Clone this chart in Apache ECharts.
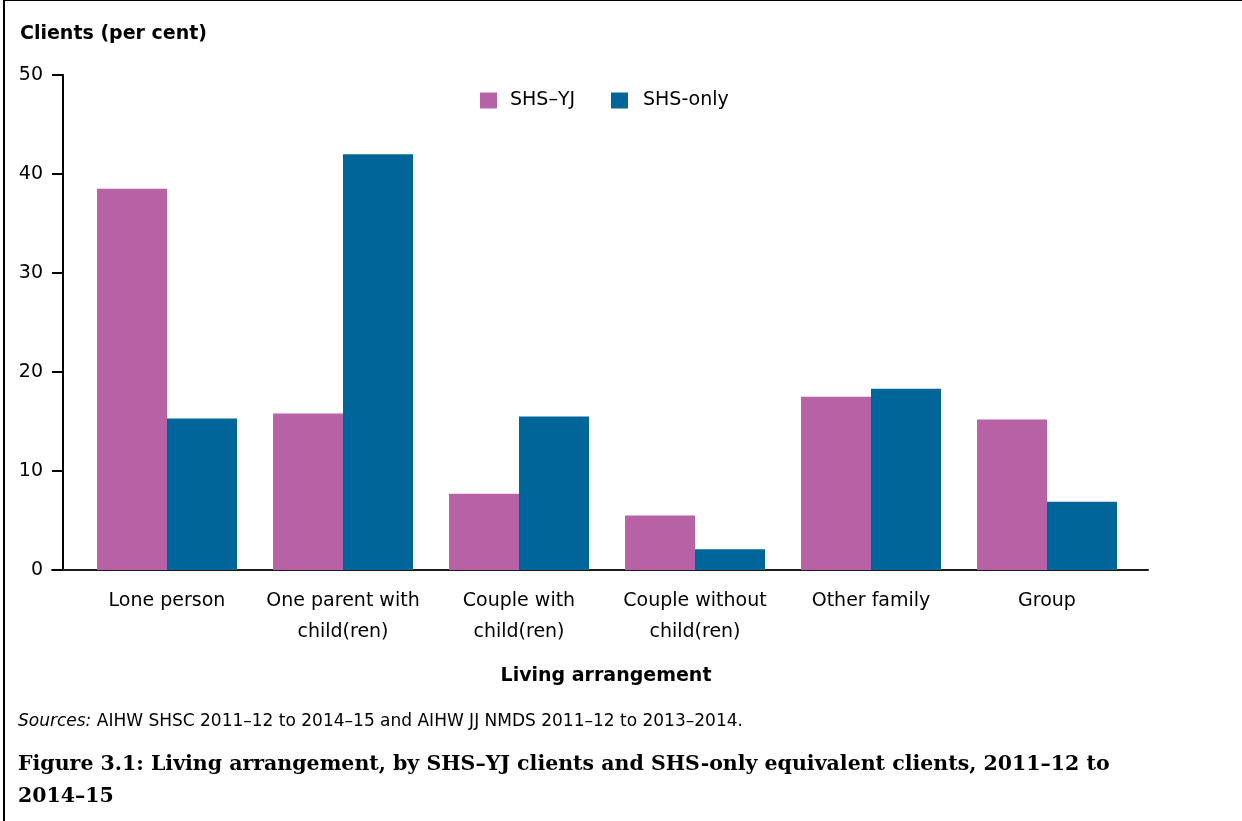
<!DOCTYPE html>
<html>
<head>
<meta charset="utf-8">
<script src="https://cdn.jsdelivr.net/npm/echarts@6/dist/echarts.min.js"></script>
<style>
html,body{margin:0;padding:0;background:#fff;}
#c{width:1242px;height:821px;position:absolute;left:0;top:0;}
#frame{position:absolute;left:3px;top:0;width:1239px;height:821px;border-top:1px solid #000;border-left:2px solid #000;box-sizing:border-box;pointer-events:none;}
</style>
</head>
<body>
<div id="c"></div>
<div id="frame"></div>
<script>
const categories = ['Lone person', 'One parent with\nchild(ren)', 'Couple with\nchild(ren)', 'Couple without\nchild(ren)', 'Other family', 'Group'];
const shsYJ = [38.5, 15.8, 7.7, 5.5, 17.5, 15.2];
const shsOnly = [15.3, 42.0, 15.5, 2.1, 18.3, 6.9];
const seriesNames = ['SHS\u2013YJ', 'SHS-only'];
const yTicks = [0, 10, 20, 30, 40, 50];

const FONT = '"DejaVu Sans", "Liberation Sans", Arial, sans-serif';
const chart = echarts.init(document.getElementById('c'), null, {renderer: 'canvas'});
chart.setOption({
  animation: false,
  textStyle: {fontFamily: FONT, color: '#000'},
  title: [
    {text: 'Clients (per cent)', left: 20, top: 25, padding: 0, textStyle: {fontFamily: FONT, fontSize: 19, fontWeight: 'bold', color: '#000'}},
    {text: 'Living arrangement', left: 606, top: 667, padding: 0, textAlign: 'center', textStyle: {fontFamily: FONT, fontSize: 19, fontWeight: 'bold', color: '#000'}},
    {text: '{i|Sources:} AIHW SHSC 2011\u201312 to 2014\u201315 and AIHW JJ NMDS 2011\u201312 to 2013\u20132014.', left: 18, top: 713, padding: 0,
     textStyle: {fontFamily: FONT, fontSize: 17, fontWeight: 'normal', color: '#000', rich: {i: {fontFamily: FONT, fontSize: 17, fontWeight: 'normal', fontStyle: 'italic', color: '#000'}}}},
    {text: 'Figure 3.1: Living arrangement, by SHS\u2013YJ clients and SHS-only equivalent clients, 2011\u201312 to\n2014\u201315', left: 18, top: 749, padding: 0,
     textStyle: {fontFamily: '"DejaVu Serif", "Liberation Serif", serif', fontSize: 20.5, fontWeight: 'bold', color: '#000', lineHeight: 32}}
  ],
  legend: [
    {left: 480, top: 91, padding: 0, itemWidth: 17, itemHeight: 16, icon: 'rect',
     textStyle: {fontFamily: FONT, fontSize: 19, color: '#000', padding: [2, 0, 0, 8]},
     data: [seriesNames[0]]},
    {left: 611, top: 91, padding: 0, itemWidth: 17, itemHeight: 16, icon: 'rect',
     textStyle: {fontFamily: FONT, fontSize: 19, color: '#000', padding: [2, 0, 0, 10]},
     data: [seriesNames[1]]}
  ],
  grid: [
    {left: 79, right: 107, top: 75, bottom: 251, containLabel: false},
    {left: 52, right: 94, top: 75, bottom: 251, containLabel: false}
  ],
  xAxis: [
    {type: 'category', gridIndex: 0, data: categories,
     axisLine: {show: false}, axisTick: {show: false},
     axisLabel: {fontFamily: FONT, fontSize: 19, color: '#000', margin: 16, lineHeight: 31, interval: 0}},
    {type: 'value', gridIndex: 1, min: 0, max: 1,
     axisLine: {show: true, lineStyle: {color: '#1a1a1a', width: 2}},
     axisTick: {show: false}, axisLabel: {show: false}, splitLine: {show: false}}
  ],
  yAxis: [
    {type: 'value', gridIndex: 0, min: 0, max: 50, interval: 10, offset: 16,
     axisLine: {show: true, lineStyle: {color: '#000', width: 2}},
     axisTick: {show: true, inside: false, length: 11, lineStyle: {color: '#000', width: 2}},
     axisLabel: {fontFamily: FONT, fontSize: 19, color: '#000', margin: 20,
       formatter: v => yTicks.includes(v) ? String(v) : ''},
     splitLine: {show: false}},
    {type: 'value', gridIndex: 1, min: 0, max: 50, show: false}
  ],
  series: [
    {name: seriesNames[0], type: 'bar', xAxisIndex: 0, yAxisIndex: 0, data: shsYJ,
     barWidth: 70, barGap: '0%', itemStyle: {color: '#B862A6'}},
    {name: seriesNames[1], type: 'bar', xAxisIndex: 0, yAxisIndex: 0, data: shsOnly,
     barWidth: 70, barGap: '0%', itemStyle: {color: '#006699'}}
  ]
});
</script>
</body>
</html>
